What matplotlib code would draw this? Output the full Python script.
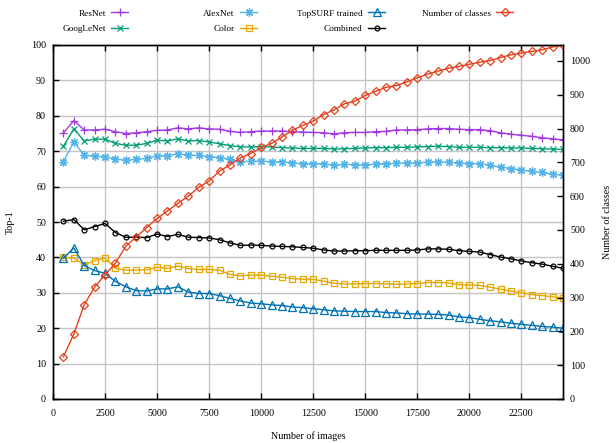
import numpy as np
import matplotlib.pyplot as plt

plt.rcParams['font.family'] = ['Liberation Serif', 'DejaVu Serif']

# number of training images (x axis)
n_images = np.arange(500, 24501, 500)

# top-1 accuracy per descriptor
resnet = [75.2, 78.6, 76.0, 76.0, 76.2, 75.5, 75.0, 75.2, 75.5, 75.9, 76.0, 76.6, 76.3, 76.6, 76.3, 76.2,
          75.6, 75.3, 75.5, 75.7, 75.7, 75.7, 75.5, 75.4, 75.3, 75.2, 74.9, 75.2, 75.3, 75.3, 75.5, 75.6,
          76.0, 76.0, 76.1, 76.3, 76.4, 76.4, 76.2, 76.1, 76.1, 75.8, 75.2, 74.8, 74.5, 74.2, 73.8, 73.5, 73.2]
googlenet = [71.4, 76.3, 72.9, 73.4, 73.4, 72.2, 71.7, 71.7, 72.2, 73.1, 72.9, 73.5, 72.9, 73.0, 72.6, 72.1,
             71.6, 71.2, 71.2, 71.3, 71.2, 71.0, 70.9, 70.8, 70.8, 70.8, 70.6, 70.7, 70.8, 70.9, 71.0, 71.0,
             71.1, 71.1, 71.2, 71.3, 71.4, 71.3, 71.1, 71.1, 71.1, 71.0, 71.0, 70.9, 70.9, 70.8, 70.7, 70.6, 70.5]
alexnet = [67.0, 72.7, 68.8, 68.7, 68.4, 67.8, 67.4, 67.7, 68.0, 68.7, 68.7, 69.3, 68.9, 68.8, 68.5, 68.2,
           67.7, 67.0, 67.2, 67.2, 67.0, 67.0, 66.7, 66.5, 66.5, 66.4, 66.0, 66.3, 66.2, 66.1, 66.4, 66.5,
           66.6, 66.7, 66.7, 66.9, 67.0, 66.9, 66.7, 66.5, 66.5, 66.0, 65.5, 65.1, 64.7, 64.3, 64.0, 63.5, 63.2]
color = [40.0, 39.8, 37.9, 39.1, 39.8, 36.9, 36.4, 36.4, 36.5, 37.2, 36.9, 37.6, 36.8, 36.6, 36.6, 36.4,
         35.2, 34.8, 35.0, 35.0, 34.7, 34.4, 34.0, 33.8, 33.8, 33.3, 32.7, 32.5, 32.5, 32.6, 32.6, 32.5,
         32.4, 32.5, 32.6, 32.9, 32.9, 32.8, 32.3, 32.2, 32.1, 31.6, 31.0, 30.5, 30.0, 29.5, 29.2, 28.9, 28.5]
combined = [50.2, 50.7, 47.8, 48.7, 49.6, 47.0, 45.7, 45.7, 45.6, 46.6, 45.9, 46.5, 45.7, 45.6, 45.5, 45.0,
            44.1, 43.4, 43.5, 43.4, 43.2, 43.1, 43.0, 42.8, 42.6, 42.1, 41.8, 41.8, 41.9, 41.9, 42.0, 42.0,
            42.0, 42.0, 42.1, 42.4, 42.4, 42.3, 41.9, 41.7, 41.5, 40.8, 40.1, 39.6, 39.0, 38.5, 38.1, 37.5, 36.9]
topsurf = [39.7, 42.7, 37.7, 36.3, 35.5, 33.2, 31.7, 30.6, 30.5, 31.1, 31.1, 31.7, 30.2, 29.8, 29.8, 29.2,
           28.4, 27.7, 27.1, 26.9, 26.6, 26.4, 26.0, 25.8, 25.5, 25.2, 24.9, 24.8, 24.7, 24.7, 24.7, 24.4,
           24.3, 24.1, 24.0, 24.0, 23.9, 23.7, 23.2, 23.0, 22.5, 22.1, 21.8, 21.4, 21.1, 20.8, 20.5, 20.3, 20.0]

# number of classes covered by the training images (right axis)
n_classes = [125, 192, 279, 331, 367, 402, 452, 479, 507, 534, 556, 579, 600, 626, 645, 674,
             692, 713, 726, 744, 756, 775, 795, 809, 822, 841, 855, 873, 881, 898, 910, 922,
             927, 938, 950, 961, 970, 978, 984, 990, 996, 1001, 1010, 1018, 1023, 1028, 1033, 1041, 1047]

W, H = 616, 443
fig = plt.figure(figsize=(W / 100, H / 100), dpi=100)
ax = fig.add_axes([53 / W, 1 - 399 / H, 510 / W, 354 / H])
ax2 = ax.twinx()

fs = 7.2
lw = 1.0
common = dict(lw=lw, markerfacecolor='none', mew=0.9)
ax.plot(n_images, resnet, color='#a03ae0', marker='+', ms=6, label='ResNet', **common)
ax.plot(n_images, googlenet, color='#009e73', marker='x', ms=4.5, label='GoogLeNet', **common)
ax.plot(n_images, alexnet, color='#56b4e9', marker=(8, 2, 0), ms=6, label='AlexNet', **common)
ax.plot(n_images, color, color='#e6a800', marker='s', ms=5, label='Color', **common)
ax.plot(n_images, topsurf, color='#0072b2', marker='^', ms=5.5, label='TopSURF trained', **common)
ax.plot(n_images, combined, color='black', marker='o', ms=3.5, label='Combined', **common)
ax2.plot(n_images, n_classes, color='#e5401e', marker='D', ms=4, label='Number of classes', **common)

ax.set_xlim(0, 24500)
ax.set_ylim(0, 100)
ax2.set_ylim(0, 1047)
ax.set_xticks(np.arange(0, 22501, 2500))
ax.set_yticks(np.arange(0, 101, 10))
ax2.set_yticks(np.arange(0, 1001, 100))

ax.grid(True, color='#c4c4c4', lw=1.0)
ax.set_axisbelow(True)
ax.tick_params(direction='in', length=4, width=1, labelsize=fs, top=True, pad=5)
ax.tick_params(axis='x', pad=7)
ax2.tick_params(direction='in', length=4, width=1, labelsize=fs, pad=5)
for a in (ax, ax2):
    for s in a.spines.values():
        s.set_linewidth(1.0)

ax.set_ylabel('Top-1', fontsize=fs)
ax.yaxis.set_label_coords(-0.075, 0.5)
ax.set_xlabel('Number of images', fontsize=fs)
ax.xaxis.set_label_coords(0.5, -0.092)
ax2.set_ylabel('Number of classes', fontsize=fs, rotation=90)
ax2.yaxis.set_label_coords(1.078, 0.5)

# key in four columns above the plot, labels to the left of the samples
handles = {l.get_label(): l for l in ax.get_lines() + ax2.get_lines()}
columns = [(['ResNet', 'GoogLeNet'], 128),
           (['AlexNet', 'Color'], 257),
           (['TopSURF trained', 'Combined'], 385),
           (['Number of classes'], 513)]
for names, right in columns:
    fig.legend([handles[n] for n in names], names, loc='upper right',
               bbox_to_anchor=(right / W, 1 - 9 / H), markerfirst=False, frameon=False,
               fontsize=6.7, borderpad=0, borderaxespad=0, handlelength=1.8,
               handletextpad=0.6, labelspacing=0.75)

fig.savefig('out.png', dpi=100)
